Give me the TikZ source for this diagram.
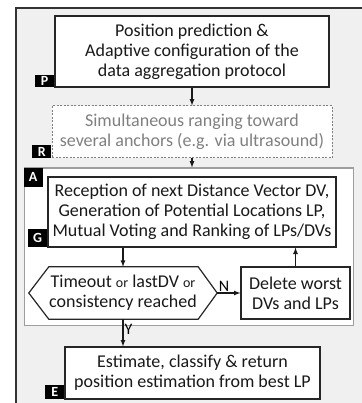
\documentclass[tikz,border=0pt]{standalone}
\usepackage{fontspec}
\setmainfont{Carlito}
\usetikzlibrary{calc}
\definecolor{framefill}{gray}{0.94}
\definecolor{loopline}{gray}{0.62}
\definecolor{rangegray}{gray}{0.5}
\newcommand{\boxfont}{\fontsize{18}{20}\selectfont}
\newcommand{\orfont}{\fontsize{14}{14}\selectfont}
\newcommand{\tagfont}{\bfseries\fontsize{14}{14}\selectfont}
\newcommand{\steptag}[4]{
	\node[tag, anchor=#3, minimum height=#4] (tag#1) at (#2) {#1};
}

\begin{document}
\begin{tikzpicture}[x=1pt,y=-1pt,
	box/.style={draw=black!85, line width=1.2pt, fill=white, align=center, inner sep=0pt, font=\boxfont, text=black!90},
	tag/.style={fill=black, text=white, font=\tagfont, inner sep=0pt, minimum width=19pt},
	flow/.style={draw=black!90, line width=1.2pt, -latex},
	answer/.style={font=\fontsize{16}{16}\selectfont, inner sep=1pt}]
	\useasboundingbox (0,0) rectangle (361,403);
	\fill[white] (0,0) rectangle (361,403);
	\draw[line width=1.5pt, draw=black!80, fill=framefill] (16,8) rectangle (372,414);

	\node[box, minimum width=274pt, minimum height=71pt] (pred) at (192,51.5) {Position prediction \&\\Adaptive configuration of the\\data aggregation protocol};
	\node[box, draw=rangegray, text=rangegray, line width=1pt, dash pattern=on 2pt off 1.5pt, minimum width=280pt, minimum height=52pt] (rng) at (192,132) {Simultaneous ranging toward\\several anchors (e.g. via ultrasound)};

	% loop area
	\node[draw=loopline, line width=1pt, fill=white, inner sep=0pt, minimum width=329pt, minimum height=157pt] (alg) at (188.5,246.5) {};
	\node[box, minimum width=288pt, minimum height=70pt] (gen) at (192,212) {Reception of next Distance Vector DV,\\Generation of Potential Locations LP,\\Mutual Voting and Ranking of LPs/DVs};
	\node[align=center, inner sep=0pt, font=\boxfont, text=black!90, minimum width=188pt, minimum height=52pt] (chk) at (123,293) {Timeout {\orfont or} lastDV {\orfont or}\\consistency reached};
	\draw[line width=1.2pt, draw=black!85] (chk.west) -- ($(chk.north west)+(20,0)$) -- ($(chk.north east)+(-19,0)$) -- (chk.east) -- ($(chk.south east)+(-19,0)$) -- ($(chk.south west)+(20,0)$) -- cycle;
	\node[box, minimum width=109pt, minimum height=52pt] (del) at (295.5,293) {Delete worst\\DVs and LPs};

	\node[box, minimum width=255pt, minimum height=52pt] (est) at (192.5,373) {Estimate, classify \& return\\position estimation from best LP};

	\steptag{P}{pred.south west}{south east}{12pt}
	\steptag{R}{rng.south west}{south east}{13pt}
	\steptag{A}{alg.north west}{north west}{19pt}
	\steptag{G}{gen.south west}{south east}{18pt}
	\steptag{E}{est.south west}{south east}{14pt}

	\draw[flow] (pred.south) -- (rng.north);
	\draw[flow] (rng.south) -- (rng.south |- alg.north);
	\draw[flow] (gen.south -| chk.north) -- (chk.north);
	\draw[flow] (del.north) -- (del.north |- gen.south);
	\draw[flow] (chk.east) -- (del.west) node[answer, pos=0, anchor=south west] {N};
	\draw[flow] (chk.south) -- node[answer, pos=0.36, right] {Y} (chk.south |- est.north);
\end{tikzpicture}
\end{document}
